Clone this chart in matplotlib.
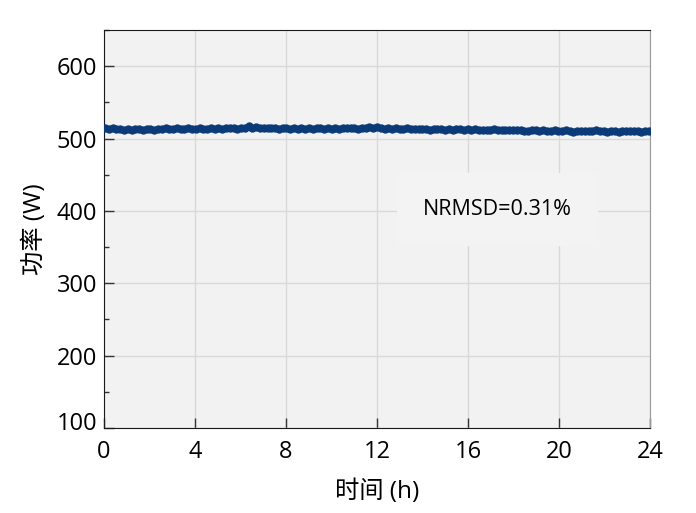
import numpy as np
import matplotlib
matplotlib.use("Agg")
import matplotlib.pyplot as plt
import matplotlib.transforms as mtransforms
from matplotlib.ticker import MultipleLocator

plt.rcParams['font.family'] = ['Open Sans', 'Noto Sans CJK SC', 'DejaVu Sans']

# power readings every 10 min over 24 h (W)
power = [
    514.2, 513.8, 514.5, 513.1, 513.6, 512.4,
    513.0, 512.1, 513.4, 512.8, 511.9, 512.6,
    513.3, 512.2, 513.8, 512.9, 514.6, 513.1,
    513.5, 514.2, 512.8, 513.7, 514.9, 513.4,
    513.2, 514.0, 513.5, 512.9, 514.3, 513.6,
    514.1, 513.3, 514.8, 513.9, 514.4, 513.7,
    514.6, 515.2, 517.0, 514.1, 515.3, 514.0,
    514.8, 513.9, 514.5, 515.1, 513.8, 514.6,
    514.2, 513.6, 514.9, 513.8, 514.3, 513.5,
    514.0, 513.2, 514.6, 513.9, 513.4, 514.3,
    513.7, 514.5, 513.6, 514.2, 513.9, 514.7,
    514.1, 513.8, 515.0, 514.3, 515.6, 514.4,
    516.2, 514.1, 513.6, 514.5, 513.2, 514.0,
    513.4, 512.8, 513.9, 513.1, 512.6, 513.5,
    512.9, 513.6, 512.5, 513.2, 512.7, 513.4,
    512.4, 513.1, 512.0, 512.8, 513.3, 512.2,
    512.6, 511.8, 512.9, 512.3, 511.5, 512.4,
    511.9, 512.7, 512.1, 511.4, 512.5, 511.8,
    512.2, 511.6, 512.4, 511.1, 510.9, 511.7,
    511.3, 510.8, 511.9, 511.0, 510.5, 511.4,
    510.6, 509.9, 511.2, 510.3, 509.7, 510.8,
    510.2, 511.0, 509.8, 510.5, 511.3, 510.1,
    510.4, 509.6, 510.9, 510.0, 509.5, 510.3,
    509.8, 510.6, 509.9, 510.4, 509.7, 510.5,
    510.2,
]
hours = np.linspace(0.05, 23.95, len(power))

x_ticks = [0, 4, 8, 12, 16, 20, 24]
y_ticks = [100, 200, 300, 400, 500, 600]
note = "NRMSD=0.31%"

fig = plt.figure(figsize=(6.96, 5.13), dpi=100)
ax = fig.add_axes([0.1494, 0.1657, 0.7846, 0.7758])
ax.set_facecolor('#f2f2f2')

ax.plot(hours, power, '-o', color='#0b3a78', ms=5, lw=3.5, zorder=3)

ax.set_xlim(0, 24)
ax.set_ylim(100, 650)
ax.set_xticks(x_ticks)
ax.set_yticks(y_ticks)
ax.yaxis.set_minor_locator(MultipleLocator(50))
ax.grid(True, which='major', color='#d9d9d9', lw=1)
ax.set_axisbelow(True)

ax.tick_params(which='both', direction='in', labelsize=17, color='#333333')
ax.tick_params(axis='y', pad=5)
ax.tick_params(axis='x', pad=9)
ax.tick_params(which='major', length=7, width=1)
ax.tick_params(which='minor', length=3.5, width=1)

for s in ['left', 'bottom', 'top']:
    ax.spines[s].set_color('#1a1a1a')
ax.spines['right'].set_color('#999999')

# nudge the bottom y label up a bit
lbl = ax.get_yticklabels()[0]
lbl.set_transform(lbl.get_transform() + mtransforms.ScaledTranslation(0, 5 / 72, fig.dpi_scale_trans))

ax.set_xlabel('时间 (h)', fontsize=17.5, labelpad=11)
ax.set_ylabel('功率 (W)', fontsize=17.5, labelpad=7)

ax.text(17.3, 402, note, fontsize=15.5, ha='center', va='center',
        bbox=dict(boxstyle='square,pad=1.2', facecolor='#f3f3f3', edgecolor='none'),
        zorder=2)

fig.savefig('out.png', dpi=100)
